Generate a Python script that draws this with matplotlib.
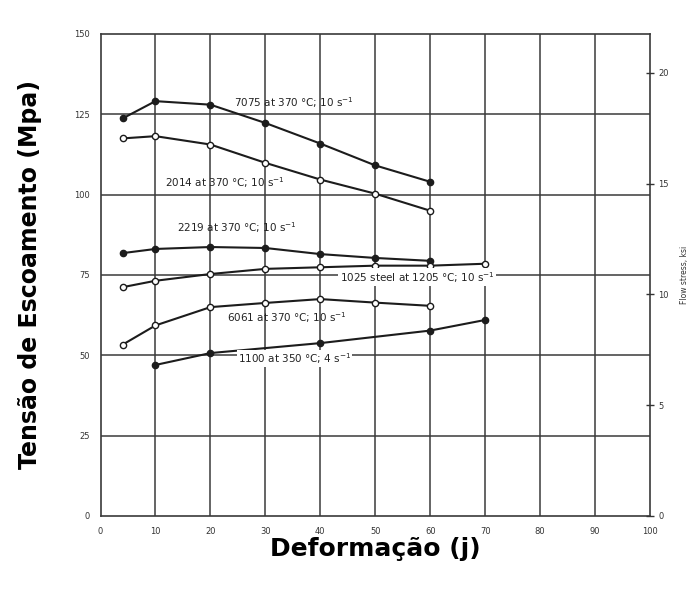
import matplotlib.pyplot as plt

# strain (%) and flow stress (MPa)
x_7075 = [4, 10, 20, 30, 40, 50, 60]
y_7075 = [123.7, 129.1, 128.0, 122.3, 115.9, 109.1, 104.0]

x_2014 = [4, 10, 20, 30, 40, 50, 60]
y_2014 = [117.5, 118.2, 115.6, 109.9, 104.7, 100.3, 95.0]

x_2219 = [4, 10, 20, 30, 40, 50, 60]
y_2219 = [81.8, 83.1, 83.7, 83.4, 81.5, 80.3, 79.4]

x_1025 = [4, 10, 20, 30, 40, 50, 60, 70]
y_1025 = [71.2, 73.2, 75.3, 76.9, 77.4, 77.9, 77.9, 78.5]

x_6061 = [4, 10, 20, 30, 40, 50, 60]
y_6061 = [53.3, 59.3, 65.0, 66.3, 67.5, 66.4, 65.4]

x_1100 = [10, 20, 40, 60, 70]
y_1100 = [47.0, 50.7, 53.8, 57.7, 61.0]

x_ticks = [0, 10, 20, 30, 40, 50, 60, 70, 80, 90, 100]
y_ticks = [0, 25, 50, 75, 100, 125, 150]
ksi_ticks = [0, 5, 10, 15, 20]

labels = {
    "7075": (24.3, 128.6, "7075 at 370 °C; 10 s$^{-1}$"),
    "2014": (11.8, 103.7, "2014 at 370 °C; 10 s$^{-1}$"),
    "2219": (14.0, 89.7, "2219 at 370 °C; 10 s$^{-1}$"),
    "1025": (43.5, 74.3, "1025 steel at 1205 °C; 10 s$^{-1}$"),
    "6061": (23.0, 61.8, "6061 at 370 °C; 10 s$^{-1}$"),
    "1100": (25.0, 49.0, "1100 at 350 °C; 4 s$^{-1}$"),
}

ink = "#1c1c1c"
grid = "#3a3a3a"

fig = plt.figure(figsize=(6.9, 5.92), dpi=100)
ax = fig.add_axes([0.1457, 0.1284, 0.7963, 0.8142])

ax.set_xlim(0, 100)
ax.set_ylim(0, 150)
ax.set_xticks(x_ticks)
ax.set_yticks(y_ticks)
ax.tick_params(labelsize=6, length=0, pad=8, colors="#333")
for v in x_ticks[1:-1]:
    ax.axvline(v, color=grid, lw=1.1, zorder=1)
for v in y_ticks[1:-1]:
    ax.axhline(v, color=grid, lw=1.1, zorder=1)
for s in ax.spines.values():
    s.set_color(grid)
    s.set_linewidth(1.2)

series = [
    (x_7075, y_7075, True),
    (x_2014, y_2014, False),
    (x_2219, y_2219, True),
    (x_1025, y_1025, False),
    (x_6061, y_6061, False),
    (x_1100, y_1100, True),
]
for xs, ys, filled in series:
    ax.plot(xs, ys, color=ink, lw=1.5, marker="o", ms=4.5,
            mfc=ink if filled else "white", mec=ink, mew=1.0, zorder=3)

for key, (tx, ty, txt) in labels.items():
    bbox = None
    if key in ("1025", "1100"):
        bbox = dict(facecolor="white", edgecolor="none", pad=1.0)
    ax.text(tx, ty, txt, fontsize=7.5, color="#222", va="center", ha="left",
            bbox=bbox, zorder=4)

# right-hand axis in ksi
ax2 = ax.twinx()
ax2.set_ylim(0, 150 / 6.894757)
ax2.set_yticks(ksi_ticks)
ax2.tick_params(labelsize=6, direction="inout", length=6, width=1.0,
                colors="#333", pad=3)
for side in ("right", "top", "left", "bottom"):
    ax2.spines[side].set_visible(False)
ax2.set_ylabel("Flow stress, ksi", fontsize=5.5, color="#333", labelpad=8)

ax.set_ylabel("Tensão de Escoamento (Mpa)", fontsize=17, fontweight="bold",
              labelpad=23)
ax.set_xlabel("Deformação (j)", fontsize=18, fontweight="bold", labelpad=1)

fig.savefig("out.png", dpi=100)
